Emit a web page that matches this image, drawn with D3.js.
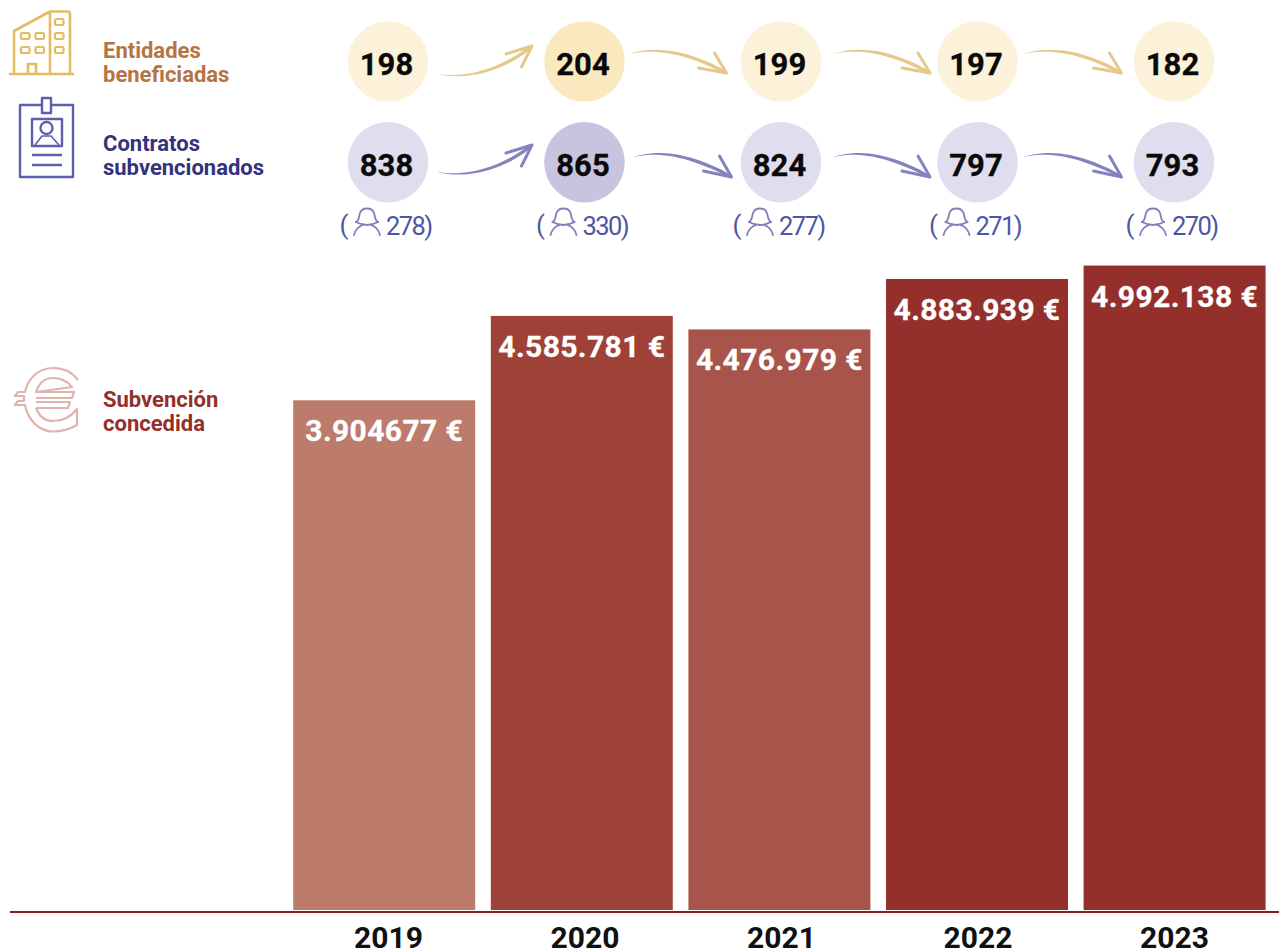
<!DOCTYPE html>
<html><head><meta charset="utf-8">
<script src="https://cdn.jsdelivr.net/npm/d3@7"></script>
<style>html,body{margin:0;padding:0;background:#fff}svg{display:block}text{font-family:Roboto,sans-serif}</style>
</head><body><svg id="c" width="1279" height="951"></svg>
<script>
const years=["2019","2020","2021","2022","2023"];
const entidades=[198,204,199,197,182];
const contratos=[838,865,824,797,793];
const mujeres=[278,330,277,271,270];
const subvencion=[3904677,4585781,4476979,4883939,4992138];
const subvencionLabels=["3.904677 €","4.585.781 €","4.476.979 €","4.883.939 €","4.992.138 €"];
const barColors=["#bd7b6b","#9e4238","#a9544a","#942f2b","#942f2b"];
const entCircle=["#fcf2d9","#fae9bf","#fcf2d9","#fcf2d9","#fcf2d9"];
const conCircle=["#e0ddee","#c8c4e0","#e0ddee","#e0ddee","#e0ddee"];
const arrowsUp=[true,false,false,false];

const svg=d3.select("#c");
const x=d3.scaleBand().domain(years).range([285.4,1273.4]).paddingInner(0.079).paddingOuter(0.0395);
const cx=d3.scalePoint().domain(years).range([388,1174]);
const y=d3.scaleLinear().domain([-209000,5000000]).range([910,264.6]);

// bars
svg.selectAll("rect.bar").data(years).join("rect").attr("class","bar")
 .attr("x",d=>x(d)).attr("width",x.bandwidth())
 .attr("y",(d,i)=>y(subvencion[i])).attr("height",(d,i)=>910-y(subvencion[i]))
 .attr("fill",(d,i)=>barColors[i]);
svg.selectAll("text.val").data(years).join("text").attr("class","val")
 .attr("x",d=>x(d)+x.bandwidth()/2).attr("y",(d,i)=>y(subvencion[i])+41)
 .attr("text-anchor","middle").attr("font-size",30).attr("font-weight",700).attr("letter-spacing",0.4)
 .attr("fill","#fff").attr("stroke","#fff").attr("stroke-width",0.3)
 .text((d,i)=>subvencionLabels[i]);
// baseline
svg.append("line").attr("x1",10).attr("x2",1279).attr("y1",912).attr("y2",912).attr("stroke","#861a26").attr("stroke-width",2);
// axis
const ax=svg.append("g").attr("transform","translate(0,948)").call(d3.axisBottom(cx).tickSize(0).tickPadding(0));
ax.select(".domain").remove();
ax.selectAll("text").attr("y",0).attr("dy",0).attr("font-size",30).attr("font-weight",700).attr("fill","#111").style("font-family","Roboto,sans-serif");

// circles
function row(vals,fills,cy){
 svg.selectAll(null).data(years).join("circle").attr("cx",d=>cx(d)).attr("cy",cy).attr("r",40.3).attr("fill",(d,i)=>fills[i]);
 svg.selectAll(null).data(years).join("text").attr("x",d=>cx(d)-1.5).attr("y",cy+13.5).attr("text-anchor","middle")
  .attr("font-size",31).attr("font-weight",700).attr("fill","#0a0a0a").attr("stroke","#0a0a0a").attr("stroke-width",0.3).text((d,i)=>vals[i]);
}
row(entidades,entCircle,61.5);
row(contratos,conCircle,162.3);

// tapered arrows
function bez(p,t){const u=1-t;return [0,1].map(k=>u*u*u*p[0][k]+3*u*u*t*p[1][k]+3*u*t*t*p[2][k]+t*t*t*p[3][k]);}
function arrow(s,tip,up,color,headA,headB){
 const P=up?[s,[s[0]+32,s[1]+6],[tip[0]-27,tip[1]+22],tip]:[s,[s[0]+28,s[1]-8],[tip[0]-36,tip[1]-20],tip];
 const ts=d3.range(0,1.0001,0.05);
 const pts=ts.map(t=>bez(P,t));
 const upper=[],lower=[];
 pts.forEach((q,i)=>{
  const a=pts[Math.max(0,i-1)],b=pts[Math.min(pts.length-1,i+1)];
  const dx=b[0]-a[0],dy=b[1]-a[1],L=Math.hypot(dx,dy);
  const w=(0.2+3.2*Math.sin(Math.PI*Math.min(1,ts[i]*0.62)))/2;
  upper.push([q[0]-dy/L*w,q[1]+dx/L*w]);lower.unshift([q[0]+dy/L*w,q[1]-dx/L*w]);
 });
 svg.append("path").attr("d",d3.line()(upper.concat(lower))+"Z").attr("fill",color);
 svg.append("path").attr("d",d3.line()([headA,tip,headB])).attr("fill","none").attr("stroke",color)
  .attr("stroke-width",3).attr("stroke-linecap","round").attr("stroke-linejoin","round");
}
const arrowEnt="#e5c88a",arrowCon="#8483c0";
const startEnt=[50,44,52,46], tipEnt=[144,142,149,144];
const startCon=[50,49,52,46], tipCon=[144,147,149,144];
arrowsUp.forEach((up,k)=>{
 const a=cx(years[k]);
 if(up){
  const s1=[a+startEnt[k],74],t1=[a+tipEnt[k],46];
  arrow(s1,t1,true,arrowEnt,[t1[0]-26,t1[1]+8],[t1[0]-10.5,t1[1]+21]);
  const s2=[a+startCon[k],172.3],t2=[a+tipCon[k],145];
  arrow(s2,t2,true,arrowCon,[t2[0]-26,t2[1]+8],[t2[0]-10.5,t2[1]+21]);
 } else {
  const s1=[a+startEnt[k],54],t1=[a+tipEnt[k],73];
  arrow(s1,t1,false,arrowEnt,[t1[0]-28,t1[1]-5],[t1[0]-12,t1[1]-20]);
  const s2=[a+startCon[k],157],t2=[a+tipCon[k],177];
  arrow(s2,t2,false,arrowCon,[t2[0]-28,t2[1]-6],[t2[0]-12,t2[1]-21]);
 }
});

// women counts
const numC="#4f55a5";
years.forEach((yr,i)=>{
 const c=cx(yr);
 const g=svg.append("g").attr("transform",`translate(${c},0)`);
 g.append("text").attr("x",-44).attr("y",234).attr("font-size",26).attr("font-weight",400).attr("fill",numC).attr("text-anchor","middle").text("(");
 g.append("text").attr("x",-2).attr("y",235).attr("font-size",25.5).attr("letter-spacing",-1.6).attr("font-weight",400).attr("fill",numC).text(mujeres[i]+")");
 const ic=g.append("g").attr("fill","none").attr("stroke","#7f7fbd").attr("stroke-width",1.8).attr("stroke-linecap","round").attr("stroke-linejoin","round").attr("transform","translate(-21,208)");
 ic.append("path").attr("d","M-11,14 C-8,13 -8,8 -7,5 C-5,-1 5,-1 7,5 C8,8 8,13 11,14");
 ic.append("path").attr("d","M-11,14 Q0,20 11,14");
 ic.append("path").attr("d","M-13,27 C-12,22 -8,18 -4,17 M13,27 C12,22 8,18 4,17");
});

// side labels
function label(lines,color,xx,ys){lines.forEach((t,i)=>svg.append("text").attr("x",xx).attr("y",ys[i]).attr("font-size",22).attr("font-weight",700).attr("fill",color).text(t));}
label(["Entidades","beneficiadas"],"#b57443",103,[58,82]);
label(["Contratos","subvencionados"],"#33327f",103,[151,175]);
label(["Subvención","concedida"],"#942f2b",103,[406.5,431]);

// building icon
const b=svg.append("g").attr("fill","none").attr("stroke","#e3bb62").attr("stroke-width",2.6).attr("stroke-linejoin","round").attr("stroke-linecap","round");
b.append("path").attr("d","M10,74 H73 M14,73 V31 L50,11.5 H68 Q70,11.5 70,14 V73 M50,12 V73 M28,73 V64 H36 V73");
[[21,33],[35.5,33],[21,47],[35.5,47],[55,19],[55,33],[55,47]].forEach(([a,c])=>b.append("rect").attr("x",a).attr("y",c).attr("width",8.5).attr("height",6).attr("rx",1.5).attr("stroke-width",2.2));
// badge icon
const bd=svg.append("g").attr("fill","none").attr("stroke","#5a60ac").attr("stroke-width",2.4).attr("stroke-linejoin","round");
bd.append("rect").attr("x",20).attr("y",105).attr("width",53).attr("height",72);
bd.append("rect").attr("x",42).attr("y",98).attr("width",9).attr("height",15).attr("fill","#fff");
bd.append("rect").attr("x",32).attr("y",119).attr("width",30).attr("height",27);
bd.append("circle").attr("cx",46.5).attr("cy",128).attr("r",6);
bd.append("path").attr("d","M35,145 L42,136 H51 L59,145").attr("stroke-width",1.6);
bd.append("path").attr("d","M32,155 H62 M32,165 H62");
// euro icon
const e=svg.append("g").attr("fill","none").attr("stroke","#e0b3ad").attr("stroke-width",2.2).attr("stroke-linejoin","round");
e.append("path").attr("d","M78,380 C72,372 63,368 53,368 C39,368 28,378 25,392 L18,392 L15,396 L24,396 L24,401 L18,401 L15,405 L25,405 C28,420 39,431.5 53,431.5 C62,431.5 70,429 77,425 L77,409 C71,417 63,421 53,421 C45,421 39,416 36,408 M36,392 C39,383 45,378 53,378 C61,378 67,381 72,387 Z");
e.append("path").attr("d","M36,392 H74 L72,398 H36 M36,402 H70 L68,408 H36");
</script></body></html>
